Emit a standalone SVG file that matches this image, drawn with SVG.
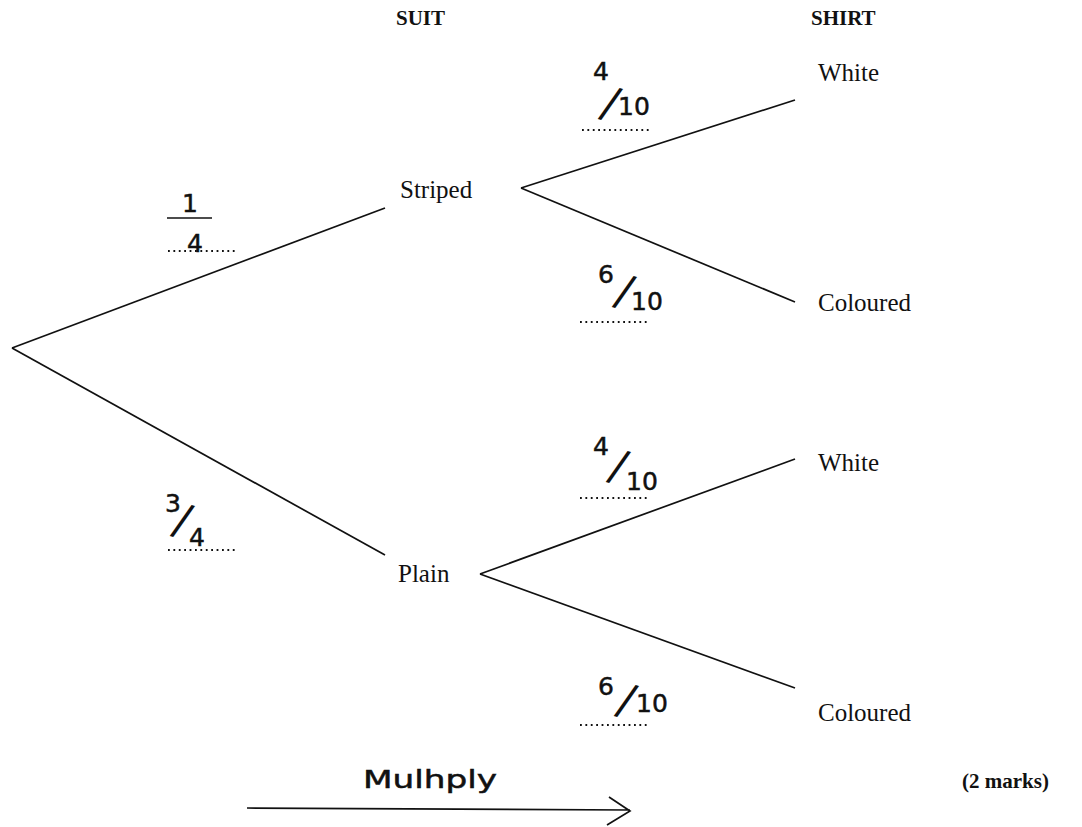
<svg xmlns="http://www.w3.org/2000/svg" width="1082" height="827" viewBox="0 0 1082 827">
<style>
.lbl{font-family:"Liberation Serif","Times New Roman",serif;font-size:25px;fill:#111}
.hdr{font-family:"Liberation Serif","Times New Roman",serif;font-size:21px;font-weight:bold;fill:#111}
.hw{font-family:"DejaVu Sans","Noto Sans",sans-serif;font-size:25px;fill:#111;stroke:#111;stroke-width:0.5}
.sl{font-size:44px;stroke-width:0}
.dots{stroke:#111;stroke-width:1.8;stroke-dasharray:1.8 3.6;fill:none}
.br{stroke:#111;stroke-width:1.7;fill:none}
</style>
<rect width="1082" height="827" fill="#fff"/>
<g id="headers">
<text class="hdr" x="396" y="25">SUIT</text>
<text class="hdr" x="811" y="25">SHIRT</text>
</g>
<g id="connectors">
<line class="br" x1="12" y1="348" x2="385" y2="208"/>
<line class="br" x1="12" y1="348" x2="385" y2="555"/>
<line class="br" x1="521" y1="188" x2="795" y2="100"/>
<line class="br" x1="521" y1="188" x2="795" y2="302"/>
<line class="br" x1="480" y1="574" x2="795" y2="459"/>
<line class="br" x1="480" y1="574" x2="795" y2="688"/>
<path class="br" d="M247 808 L630 810 M609 797 L630 811 L607 825"/>
</g>
<g id="node-striped"><text class="lbl" x="400" y="198">Striped</text></g>
<g id="node-plain"><text class="lbl" x="398" y="582">Plain</text></g>
<g id="node-white1"><text class="lbl" x="818" y="81">White</text></g>
<g id="node-coloured1"><text class="lbl" x="818" y="311">Coloured</text></g>
<g id="node-white2"><text class="lbl" x="818" y="471">White</text></g>
<g id="node-coloured2"><text class="lbl" x="818" y="721">Coloured</text></g>
<g id="prob-1-4">
<text class="hw" x="190" y="212" text-anchor="middle" font-size="30">1</text>
<line class="br" x1="167" y1="218" x2="212" y2="218" stroke-width="2"/>
<text class="hw" x="195" y="252" text-anchor="middle" font-size="27">4</text>
<line class="dots" x1="168" y1="251" x2="238" y2="251"/>
</g>
<g id="prob-3-4">
<text class="hw"><tspan x="165" y="512">3</tspan><tspan class="sl" x="171" y="532" rotate="18">/</tspan><tspan x="189" y="546">4</tspan></text>
<line class="dots" x1="168" y1="550" x2="238" y2="550"/>
</g>
<g id="prob-s-w">
<text class="hw"><tspan x="593" y="80">4</tspan><tspan class="sl" x="599" y="115" rotate="18">/</tspan><tspan x="618" y="115">10</tspan></text>
<line class="dots" x1="582" y1="130" x2="650" y2="130"/>
</g>
<g id="prob-s-c">
<text class="hw"><tspan x="598" y="283">6</tspan><tspan class="sl" x="613" y="303" rotate="18">/</tspan><tspan x="631" y="310">10</tspan></text>
<line class="dots" x1="580" y1="322" x2="650" y2="322"/>
</g>
<g id="prob-p-w">
<text class="hw"><tspan x="593" y="455">4</tspan><tspan class="sl" x="607" y="478" rotate="18">/</tspan><tspan x="626" y="490">10</tspan></text>
<line class="dots" x1="580" y1="498" x2="648" y2="498"/>
</g>
<g id="prob-p-c">
<text class="hw"><tspan x="598" y="695">6</tspan><tspan class="sl" x="615" y="712" rotate="18">/</tspan><tspan x="636" y="712">10</tspan></text>
<line class="dots" x1="580" y1="725" x2="648" y2="725"/>
</g>
<g id="multiply-note">
<text class="hw" x="363" y="788" font-size="30" textLength="134" lengthAdjust="spacingAndGlyphs">Mulhply</text>
</g>
<g id="marks">
<text class="hdr" x="962" y="788" font-size="25">(2 marks)</text>
</g>
</svg>
